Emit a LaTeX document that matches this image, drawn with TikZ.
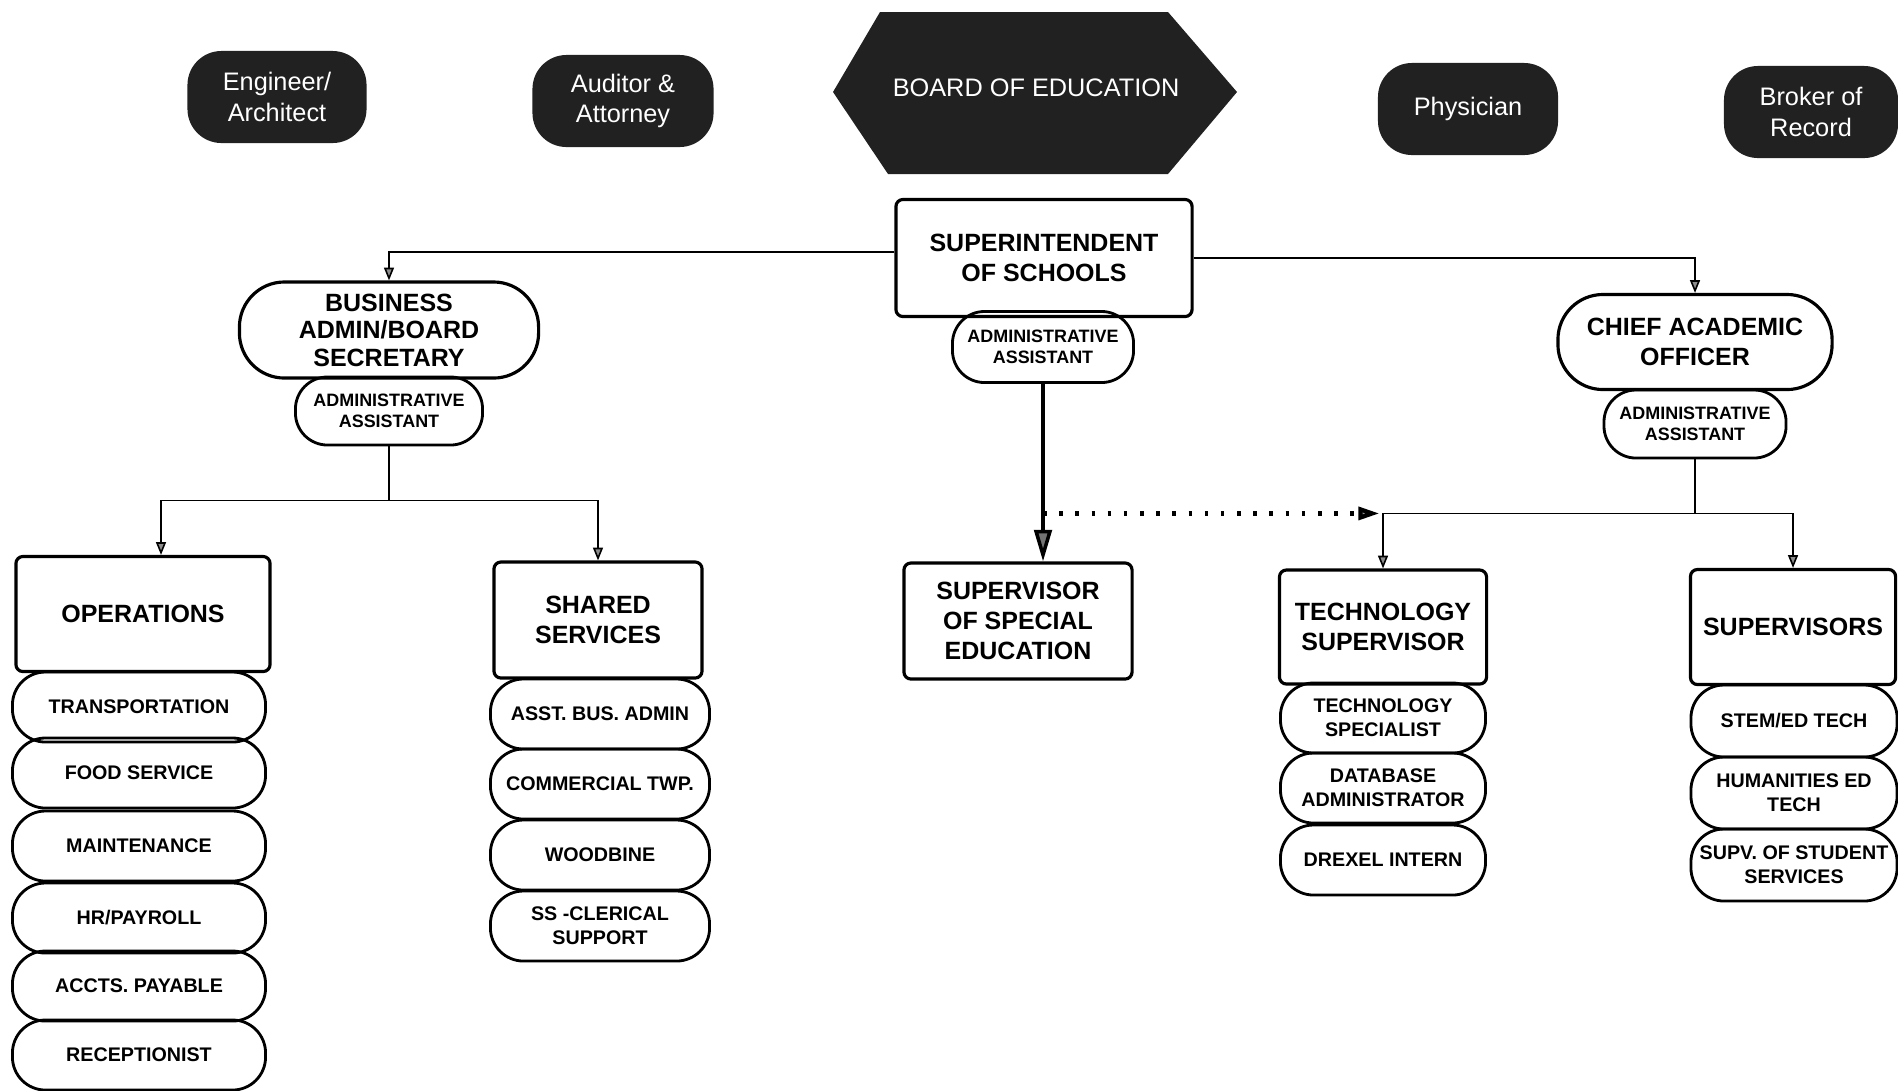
\documentclass[tikz,border=0pt]{standalone}
\usepackage{fontspec}
\setmainfont{Liberation Sans}
\usetikzlibrary{arrows.meta}

\tikzset{
    blob/.style={fill=black!87, text=white, rounded corners=0.34cm, minimum height=0.92cm, align=center, font=\fontsize{7.2}{8.6}\selectfont},
    head/.style={draw, line width=0.9pt, rounded corners=2pt, align=center, font=\fontsize{7.1}{8.6}\selectfont\bfseries},
    pill/.style={draw, line width=0.9pt, rounded corners=0.45cm, inner sep=1pt, align=center, font=\fontsize{7.1}{7.8}\selectfont\bfseries},
    asst/.style={draw, line width=0.8pt, rounded corners=0.32cm, minimum height=0.68cm, align=center, font=\fontsize{5.1}{6}\selectfont\bfseries},
    sub/.style={draw, line width=0.8pt, rounded corners=0.33cm, minimum height=0.7cm, inner sep=1pt, align=center, font=\fontsize{5.6}{6.9}\selectfont\bfseries},
    link/.style={line width=0.45pt, -{Triangle[length=3.6pt,width=2.8pt,fill=black!45]}},
}

\begin{document}
\begin{tikzpicture}[x=0.01cm, y=-0.01cm]
    \useasboundingbox (0,0) rectangle (1898,1090);

    % outside people and the board
    \node[blob, minimum width=1.79cm] (eng) at (277,97) {Engineer/\\Architect};
    \node[blob, minimum width=1.81cm] (aud) at (623,101) {Auditor \&\\Attorney};
    \node[blob, minimum width=1.80cm] (phy) at (1468,109) {Physician};
    \node[blob, minimum width=1.74cm] (bro) at (1811,112) {Broker of\\Record};
    \fill[black!87] (833,92) -- (880,12) -- (1168,12) -- (1237,92) -- (1168,174) -- (888,174) -- cycle;
    \node[text=white, font=\fontsize{7.2}{8.6}\selectfont] (boe) at (1036,88) {BOARD OF EDUCATION};

    % superintendent and the two heads
    \node[head, minimum width=2.96cm, minimum height=1.17cm] (sup) at (1044,258) {SUPERINTENDENT\\OF SCHOOLS};
    \node[asst, minimum width=1.81cm, minimum height=0.71cm] (supa) at (1043,347) {ADMINISTRATIVE\\ASSISTANT};
    \node[pill, minimum width=2.99cm, minimum height=0.96cm] (bus) at (389,330) {BUSINESS\\ADMIN/BOARD\\SECRETARY};
    \node[asst, minimum width=1.87cm] (busa) at (389,411) {ADMINISTRATIVE\\ASSISTANT};
    \node[pill, minimum width=2.74cm, minimum height=0.95cm, font=\fontsize{7.1}{8.6}\selectfont\bfseries] (cao) at (1695,342) {CHIEF ACADEMIC\\OFFICER};
    \node[asst, minimum width=1.82cm] (caoa) at (1695,424) {ADMINISTRATIVE\\ASSISTANT};

    % departments
    \node[head, minimum width=2.54cm, minimum height=1.15cm] (ops) at (143,614) {OPERATIONS};
    \node[head, minimum width=2.08cm, minimum height=1.16cm] (shs) at (598,620) {SHARED\\SERVICES};
    \node[head, minimum width=2.28cm, minimum height=1.16cm] (spe) at (1018,621) {SUPERVISOR\\OF SPECIAL\\EDUCATION};
    \node[head, minimum width=2.07cm, minimum height=1.14cm] (tec) at (1383,627) {TECHNOLOGY\\SUPERVISOR};
    \node[head, minimum width=2.05cm, minimum height=1.15cm] (sv) at (1793,627) {SUPERVISORS};

    % staff under each department
    \foreach \name/\y/\txt in {tr/707/TRANSPORTATION, fs/773/FOOD SERVICE, mn/846/MAINTENANCE, hr/918/{HR/PAYROLL}, ap/986/ACCTS. PAYABLE, rc/1055/RECEPTIONIST}
        \node[sub, minimum width=2.53cm] (\name) at (139,\y) {\txt};
    \foreach \name/\y/\txt in {ab/714/ASST. BUS. ADMIN, ct/784/COMMERCIAL TWP., wb/855/WOODBINE, sc/926/{SS -CLERICAL\\SUPPORT}}
        \node[sub, minimum width=2.19cm] (\name) at (600,\y) {\txt};
    \foreach \name/\y/\txt in {ts/718/{TECHNOLOGY\\SPECIALIST}, da/788/{DATABASE\\ADMINISTRATOR}, di/860/DREXEL INTERN}
        \node[sub, minimum width=2.05cm] (\name) at (1383,\y) {\txt};
    \foreach \name/\y/\txt in {st/721/{STEM/ED TECH}, he/793/{HUMANITIES ED\\TECH}, ss/865/{SUPV. OF STUDENT\\SERVICES}}
        \node[sub, minimum width=2.06cm, minimum height=0.72cm] (\name) at (1794,\y) {\txt};

    % connectors
    \draw[link] ([yshift=0.06cm]sup.west) -| (bus.north);
    \draw[link] (sup.east) -| (cao.north);
    \draw[line width=0.45pt] (busa.south) -- ++(0,54) coordinate (bj);
    \draw[link] (bj) -| ([xshift=0.18cm]ops.north);
    \draw[link] (bj) -| (shs.north);
    \draw[line width=0.45pt] (caoa.south) -- ++(0,54) coordinate (cj);
    \draw[link] (cj) -| (tec.north);
    \draw[link] (cj) -| (sv.north);
    \draw[line width=1pt, -{Triangle[length=9pt,width=5pt,fill=black!55]}] (supa.south) -- (supa.south |- spe.north);
    \draw[line width=1.2pt, dash pattern=on 1pt off 3.6pt, shorten >=1pt, -{Triangle[length=6pt,width=3.6pt,fill=black!45]}] (supa.south |- cj) -- (tec.north |- cj);
\end{tikzpicture}
\end{document}
